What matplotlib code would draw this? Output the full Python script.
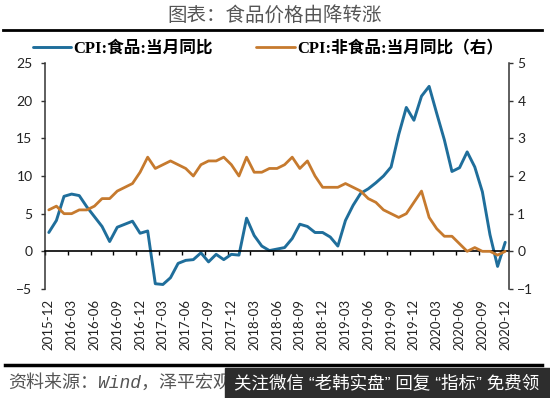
import numpy as np
import pandas as pd
import matplotlib
matplotlib.use("Agg")
import matplotlib.pyplot as plt
from matplotlib.lines import Line2D
from matplotlib.patches import Rectangle
from matplotlib.font_manager import FontProperties

plt.rcParams['font.family'] = ['Lato', 'Noto Sans CJK SC', 'DejaVu Sans']

# monthly labels 2015-12 .. 2020-12
months = pd.date_range('2015-12-01', '2020-12-01', freq='MS').strftime('%Y-%m').tolist()

# CPI food, yoy % (left axis)
food = [2.5,
        4.1, 7.3, 7.6, 7.4, 5.9, 4.6, 3.3, 1.3, 3.2, 3.6, 4.0, 2.4,
        2.7, -4.3, -4.4, -3.5, -1.6, -1.2, -1.1, -0.2, -1.4, -0.4, -1.1, -0.4,
        -0.5, 4.4, 2.1, 0.7, 0.1, 0.3, 0.5, 1.7, 3.6, 3.3, 2.5, 2.5,
        1.9, 0.7, 4.1, 6.1, 7.7, 8.3, 9.1, 10.0, 11.2, 15.5, 19.1, 17.4,
        20.6, 21.9, 18.3, 14.8, 10.6, 11.1, 13.2, 11.2, 7.9, 2.2, -2.0, 1.2]

# CPI non-food, yoy % (right axis)
nonfood = [1.1,
           1.2, 1.0, 1.0, 1.1, 1.1, 1.2, 1.4, 1.4, 1.6, 1.7, 1.8, 2.1,
           2.5, 2.2, 2.3, 2.4, 2.3, 2.2, 2.0, 2.3, 2.4, 2.4, 2.5, 2.3,
           2.0, 2.5, 2.1, 2.1, 2.2, 2.2, 2.3, 2.5, 2.2, 2.4, 2.0, 1.7,
           1.7, 1.7, 1.8, 1.7, 1.6, 1.4, 1.3, 1.1, 1.0, 0.9, 1.0, 1.3,
           1.6, 0.9, 0.6, 0.4, 0.4, 0.2, 0.0, 0.1, 0.0, 0.0, -0.1, 0.0]

left_ticks = [-5, 0, 5, 10, 15, 20, 25]
right_ticks = [-1, 0, 1, 2, 3, 4, 5]

blue = '#1F6E9B'
orange = '#C67A2E'
W, H = 550, 398

fig = plt.figure(figsize=(W / 100, H / 100), dpi=100)
ax = fig.add_axes([45 / W, 1 - 289 / H, 464 / W, 226 / H])
ax2 = ax.twinx()

x = np.arange(len(months))
l1, = ax.plot(x, food, color=blue, lw=2.1, solid_capstyle='round')
l2, = ax2.plot(x, nonfood, color=orange, lw=2.0, solid_capstyle='round')

ax.set_xlim(-0.5, len(months) - 0.5)
ax.set_ylim(-5, 25)
ax2.set_ylim(-1, 5)
ax.set_yticks(left_ticks)
ax2.set_yticks(right_ticks)

# axes styling
for s in ['top', 'right']:
    ax.spines[s].set_visible(False)
for s in ['top', 'left', 'bottom']:
    ax2.spines[s].set_visible(False)
ax.spines['left'].set_color('#333333')
ax2.spines['right'].set_color('#333333')
ax.spines['left'].set_linewidth(1.1)
ax2.spines['right'].set_linewidth(1.1)

# zero line with tick marks between categories
ax.spines['bottom'].set_position(('data', 0))
ax.spines['bottom'].set_color('black')
ax.spines['bottom'].set_linewidth(1.2)
ax.set_xticks(np.arange(-0.5, len(months) - 1, 3))
ax.tick_params(axis='x', direction='out', length=3, width=1, labelbottom=False)

sec = ax.secondary_xaxis('bottom')
sec.spines['bottom'].set_visible(False)
sec.set_xticks(x[::3], labels=months[::3], rotation=90)
sec.tick_params(length=0, pad=7, labelsize=9.5, labelcolor='#222222')

ax.tick_params(axis='y', direction='out', length=3, width=1, pad=6,
               labelsize=10, labelcolor='#222222', color='#333333')
ax2.tick_params(axis='y', direction='out', length=3, width=1, pad=3,
                labelsize=10, labelcolor='#222222', color='#333333')

# title and rules
fig.text(0.5, 1 - 15 / H, '图表：食品价格由降转涨', ha='center', va='center',
         fontsize=14, color='#555555', family=['Noto Sans CJK SC'])
fig.add_artist(Line2D([3 / W, 542 / W], [1 - 30 / H, 1 - 30 / H],
                      transform=fig.transFigure, color='black', lw=2))
fig.add_artist(Line2D([5 / W, 542 / W], [1 - 365 / H, 1 - 365 / H],
                      transform=fig.transFigure, color='black', lw=2.5))

# legend
lp = FontProperties(family=['Liberation Serif', 'Noto Sans CJK SC'], weight='bold', size=12)
fig.legend([l1, l2], ['CPI:食品:当月同比', 'CPI:非食品:当月同比（右）'],
           loc='center', bbox_to_anchor=(268 / W, 1 - 49 / H), ncol=2,
           frameon=False, prop=lp, handlelength=2.3, handletextpad=0.15,
           columnspacing=2.6)

# source and overlay
fig.text(8 / W, 1 - 383 / H, '资料来源：Wind，泽平宏观', ha='left', va='center',
         fontsize=13, style='italic', color='#555555',
         family=['Liberation Mono', 'Noto Sans CJK SC'])
fig.add_artist(Rectangle((225 / W, 0), 325 / W, 30 / H, transform=fig.transFigure,
                         color='#2d2d2d', zorder=5))
fig.text(234 / W, 1 - 383 / H, '关注微信 “老韩实盘” 回复 “指标” 免费领', ha='left', va='center',
         fontsize=12.6, color='white', family=['Liberation Sans', 'Noto Sans CJK SC'], zorder=6)

fig.savefig('out.png', dpi=100)
